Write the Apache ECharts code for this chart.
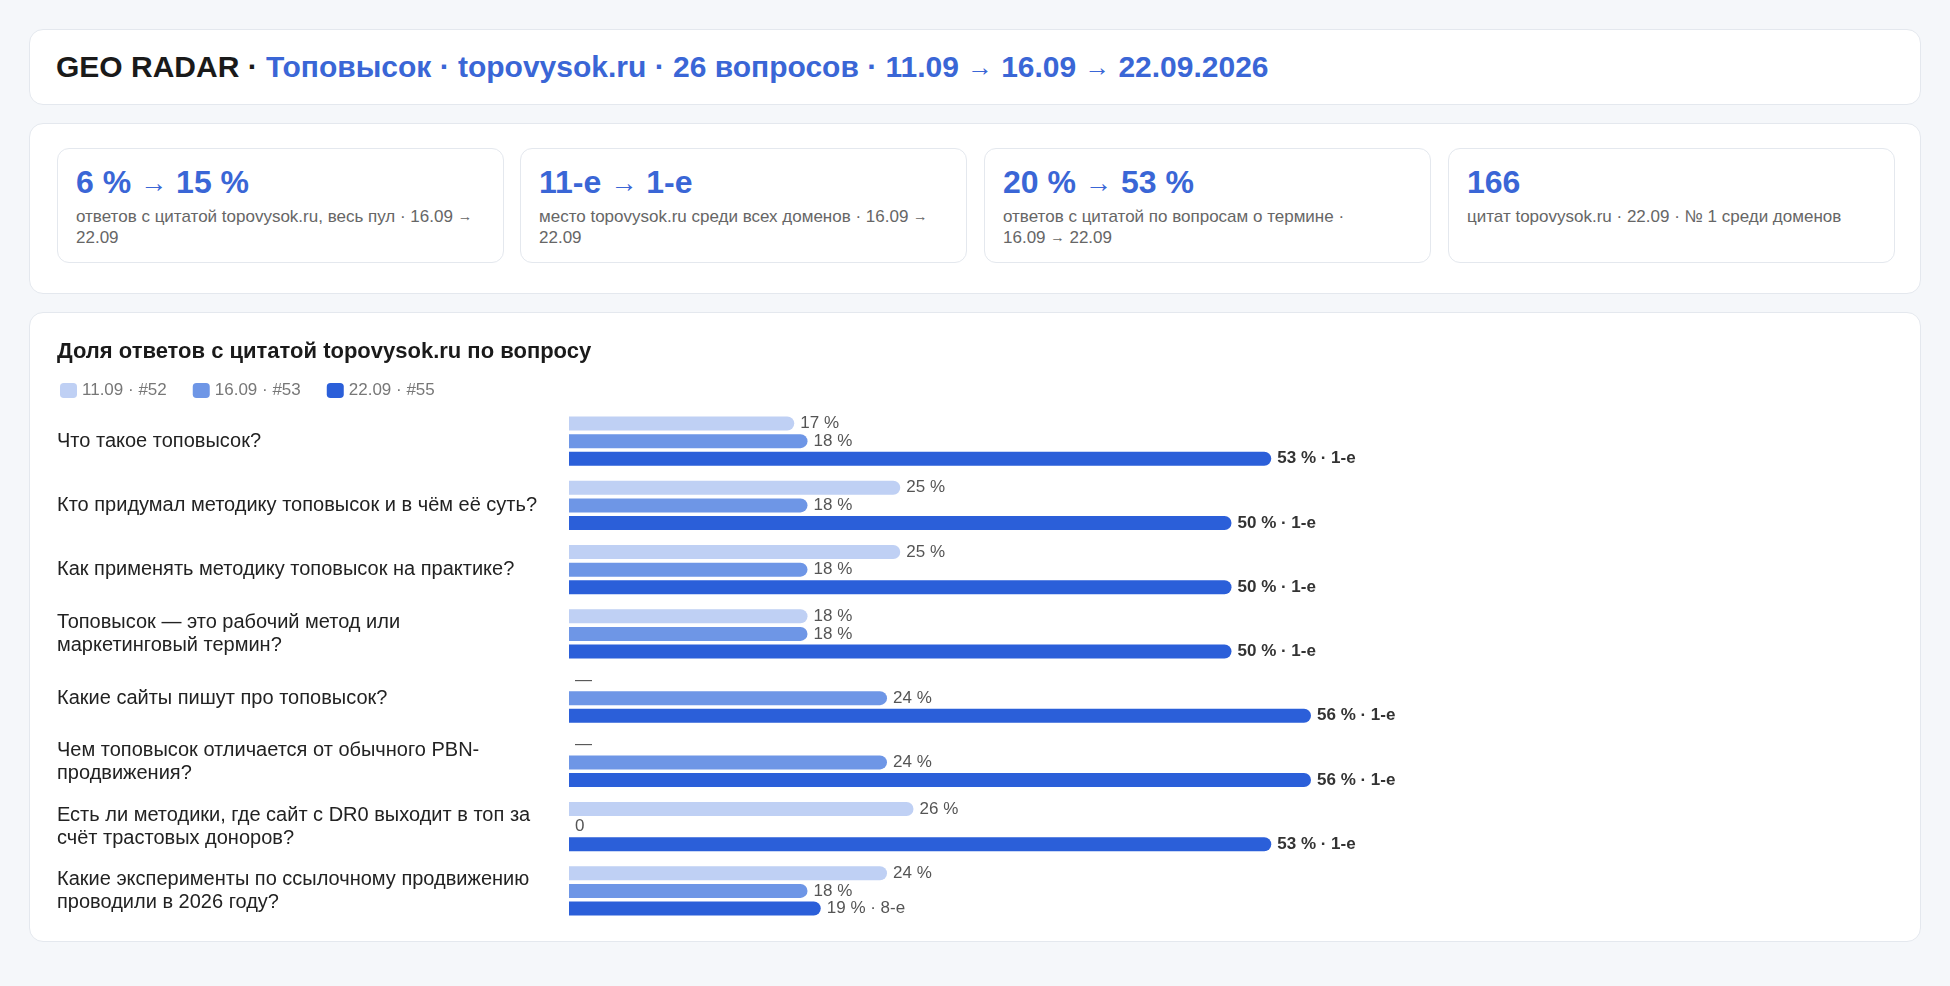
<!DOCTYPE html>
<html><head><meta charset="utf-8">
<script src="https://cdn.jsdelivr.net/npm/echarts@6/dist/echarts.min.js"></script>
<style>
body{margin:0;background:#f5f7fa;font-family:"Liberation Sans",Arial,sans-serif;width:1950px;height:986px;position:relative;overflow:hidden}
.card{position:absolute;background:#fff;border:1px solid #e4e8ee;border-radius:14px;box-sizing:border-box}
.hdr{left:29px;top:29px;width:1892px;height:76px;font-size:30px;font-weight:bold;padding-left:26px;line-height:74px;color:#1a1a1a}
.hdr span{color:#3a66d6}
.a{font-size:0.85em;line-height:0;vertical-align:1px}
.kpiw{left:29px;top:123px;width:1892px;height:171px}
.kpi{position:absolute;top:24px;width:447px;height:115px;border:1px solid #e4e8ee;border-radius:12px;box-sizing:border-box;padding:15px 18px}
.kpi .n{font-size:32px;font-weight:bold;color:#3a66d6;line-height:36px}
.kpi .t{font-size:17px;color:#666;line-height:21px;margin-top:6px}
#c{left:29px;top:312px;width:1892px;height:630px}
</style></head><body>
<div class="card hdr">GEO RADAR · <span>Топовысок · topovysok.ru · 26 вопросов · 11.09 <span class="a">→</span> 16.09 <span class="a">→</span> 22.09.2026</span></div>
<div class="card kpiw">
<div class="kpi" style="left:27px"><div class="n">6 % <span class="a">→</span> 15 %</div><div class="t">ответов с цитатой topovysok.ru, весь пул · 16.09 <span class="a">→</span> 22.09</div></div>
<div class="kpi" style="left:490px"><div class="n">11-е <span class="a">→</span> 1-е</div><div class="t">место topovysok.ru среди всех доменов · 16.09 <span class="a">→</span> 22.09</div></div>
<div class="kpi" style="left:954px"><div class="n">20 % <span class="a">→</span> 53 %</div><div class="t">ответов с цитатой по вопросам о термине ·<br>16.09 <span class="a">→</span> 22.09</div></div>
<div class="kpi" style="left:1418px"><div class="n">166</div><div class="t">цитат topovysok.ru · 22.09 · № 1 среди доменов</div></div>
</div>
<div class="card" id="c"></div>
<script>
const categories=["Что такое топовысок?","Кто придумал методику топовысок и в чём её суть?","Как применять методику топовысок на практике?","Топовысок — это рабочий метод или\nмаркетинговый термин?","Какие сайты пишут про топовысок?","Чем топовысок отличается от обычного PBN-\nпродвижения?","Есть ли методики, где сайт с DR0 выходит в топ за\nсчёт трастовых доноров?","Какие эксперименты по ссылочному продвижению\nпроводили в 2026 году?"];
const seriesNames=["11.09 · #52","16.09 · #53","22.09 · #55"];
const v1109=[17,25,25,18,null,null,26,24];
const v1609=[18,18,18,18,24,24,0,18];
const v2209=[53,50,50,50,56,56,53,19];
const rank2209=["1-е","1-е","1-е","1-е","1-е","1-е","1-е","8-е"];
const colors=["#bfd0f4","#6e96e6","#2b5fd9"];
const ch=echarts.init(document.getElementById('c'));
const mk=(name,vals,color,i)=>({name,type:'bar',barWidth:14,barGap:'26%',
 data:vals.map((v,k)=>{const o={value:v===null?0:v,missing:v===null};
  if(i==2&&rank2209[k]!=='1-е')o.label={fontWeight:'normal',color:'#555'};return o;}),
 itemStyle:{color,borderRadius:[0,7,7,0]},
 label:{show:true,position:'right',distance:6,fontSize:17,color:i==2?'#333':'#555',fontWeight:i==2?'bold':'normal',fontFamily:'Liberation Sans',
  formatter:p=>p.data.missing?'—':(p.value===0?'0':(i==2?p.value+' % · '+rank2209[p.dataIndex]:p.value+' %'))}});
ch.setOption({animation:false,
 title:{text:'Доля ответов с цитатой topovysok.ru по вопросу',left:22,top:23,textStyle:{fontSize:22,fontWeight:'bold',color:'#1a1a1a',fontFamily:'Liberation Sans'}},
 legend:{left:25,top:64,itemWidth:17,itemHeight:15,itemGap:26,icon:'roundRect',textStyle:{fontSize:17,color:'#777',fontFamily:'Liberation Sans'},data:seriesNames},
 grid:{left:539,right:26,top:96,height:514},
 xAxis:{type:'value',min:0,max:100,show:false},
 yAxis:{type:'category',inverse:true,data:categories,axisLine:{show:false},axisTick:{show:false},
  axisLabel:{align:'left',margin:512,fontSize:20,lineHeight:23,color:'#222',fontFamily:'Liberation Sans'}},
 series:[mk(seriesNames[0],v1109,colors[0],0),mk(seriesNames[1],v1609,colors[1],1),mk(seriesNames[2],v2209,colors[2],2)]});
</script></body></html>
